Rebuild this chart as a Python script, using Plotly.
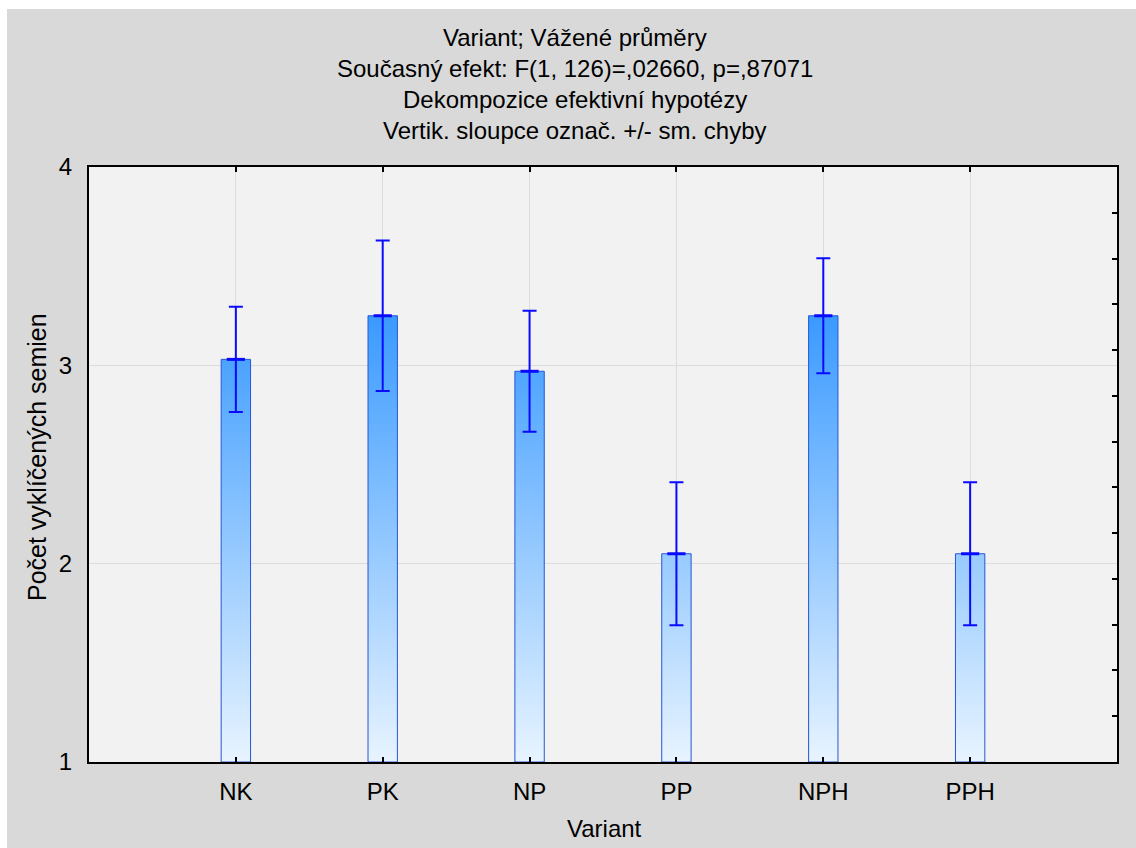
import plotly.graph_objects as go

# ---------------- data ----------------
categories = ["NK", "PK", "NP", "PP", "NPH", "PPH"]
means = [3.03, 3.25, 2.97, 2.05, 3.25, 2.05]
std_err = [0.265, 0.38, 0.305, 0.36, 0.29, 0.36]
y_ticks = [1, 2, 3, 4]

title_lines = [
    "Variant; Vážené průměry",
    "Současný efekt: F(1, 126)=,02660, p=,87071",
    "Dekompozice efektivní hypotézy",
    "Vertik. sloupce označ. +/- sm. chyby",
]
x_title = "Variant"
y_title = "Počet vyklíčených semien"

# ---------------- style ----------------
FONT = "Liberation Sans, Arial, sans-serif"
FS = 24
PAPER = "#d9d9d9"
PLOTBG = "#f2f2f2"
GRID = "#dcdcdc"
ERR = "#0a0aff"
BAR_EDGE = "#2457d6"
BAR_W = 0.2
Y_MIN, Y_MAX = 1, 4
W, H = 1136, 848
ML, MT = 89, 167
PW, PH = 1028, 595
MR, MB = W - ML - PW, H - MT - PH
WHITE_LEFT, WHITE_TOP = 7, 9

positions = list(range(1, len(categories) + 1))
grad = [[0.0, "#e8f4ff"], [0.75, "#3a9aff"], [1.0, "#1f8cff"]]

fig = go.Figure()

# gradient-filled bars
for pos, m in zip(positions, means):
    x0, x1 = pos - BAR_W / 2, pos + BAR_W / 2
    fig.add_trace(go.Scatter(
        x=[x0, x1, x1, x0, x0], y=[Y_MIN, Y_MIN, m, m, Y_MIN],
        mode="lines", fill="toself",
        fillgradient=dict(type="vertical", colorscale=grad, start=Y_MIN, stop=Y_MAX),
        line=dict(color=BAR_EDGE, width=1),
        showlegend=False, hoverinfo="skip",
    ))

# means with error bars
fig.add_trace(go.Scatter(
    x=positions, y=means, mode="markers",
    marker=dict(symbol="line-ew", size=13, color=ERR, line=dict(width=3, color=ERR)),
    error_y=dict(type="data", array=std_err, color=ERR, thickness=2, width=7),
    showlegend=False,
))

# dummy trace for right axis
fig.add_trace(go.Scatter(x=[positions[0]], y=[None], yaxis="y2",
                         showlegend=False, hoverinfo="skip"))

def px_x(fx):
    return (fx - ML) / PW

def px_y(fy):
    return (MT + PH - fy) / PH

annotations = []
for i, line in enumerate(title_lines):
    annotations.append(dict(
        text=line, xref="paper", yref="paper", x=px_x(575), y=px_y(37 + 31.3 * i),
        xanchor="center", yanchor="middle", showarrow=False,
        font=dict(family=FONT, size=FS, color="black"),
    ))
annotations.append(dict(
    text=x_title, xref="paper", yref="paper", x=px_x(604), y=px_y(828),
    xanchor="center", yanchor="middle", showarrow=False,
    font=dict(family=FONT, size=FS, color="black"),
))
annotations.append(dict(
    text=y_title, xref="paper", yref="paper", x=px_x(37), y=px_y(457),
    xanchor="center", yanchor="middle", showarrow=False, textangle=-90,
    font=dict(family=FONT, size=FS + 1, color="black"),
))

# white frame strips (top and left) outside the grey page
shapes = [
    dict(type="rect", xref="paper", yref="paper", layer="above",
         x0=px_x(0), x1=px_x(W), y0=px_y(WHITE_TOP), y1=px_y(0),
         fillcolor="white", line=dict(width=0)),
    dict(type="rect", xref="paper", yref="paper", layer="above",
         x0=px_x(0), x1=px_x(WHITE_LEFT), y0=px_y(H), y1=px_y(0),
         fillcolor="white", line=dict(width=0)),
]

minor_right = [Y_MIN + k * (Y_MAX - Y_MIN) / 13 for k in range(1, 13)]

fig.update_layout(
    width=W, height=H,
    margin=dict(l=ML, r=MR, t=MT, b=MB, pad=0),
    paper_bgcolor=PAPER, plot_bgcolor=PLOTBG,
    font=dict(family=FONT, size=FS, color="black"),
    annotations=annotations, shapes=shapes,
    xaxis=dict(
        range=[0, len(categories) + 1], tickmode="array",
        tickvals=positions, ticktext=categories,
        showgrid=True, gridcolor=GRID, gridwidth=1, zeroline=False,
        showline=True, linecolor="black", linewidth=2, mirror="ticks",
        ticks="inside", ticklen=5, tickwidth=2, tickcolor="black",
        ticklabelstandoff=7,
    ),
    yaxis=dict(
        range=[Y_MIN, Y_MAX], tickmode="array", tickvals=y_ticks,
        showgrid=True, gridcolor=GRID, gridwidth=1, zeroline=False,
        showline=True, linecolor="black", linewidth=2,
        ticks="", ticklabelstandoff=10,
    ),
    yaxis2=dict(
        range=[Y_MIN, Y_MAX], overlaying="y", side="right",
        tickmode="array", tickvals=minor_right, showticklabels=False,
        showgrid=False, zeroline=False,
        showline=True, linecolor="black", linewidth=2,
        ticks="inside", ticklen=5, tickwidth=2, tickcolor="black",
    ),
)

fig.write_html("out.html", config={"displayModeBar": False},
               post_script="document.body.style.margin='0';document.body.style.overflow='hidden';")
